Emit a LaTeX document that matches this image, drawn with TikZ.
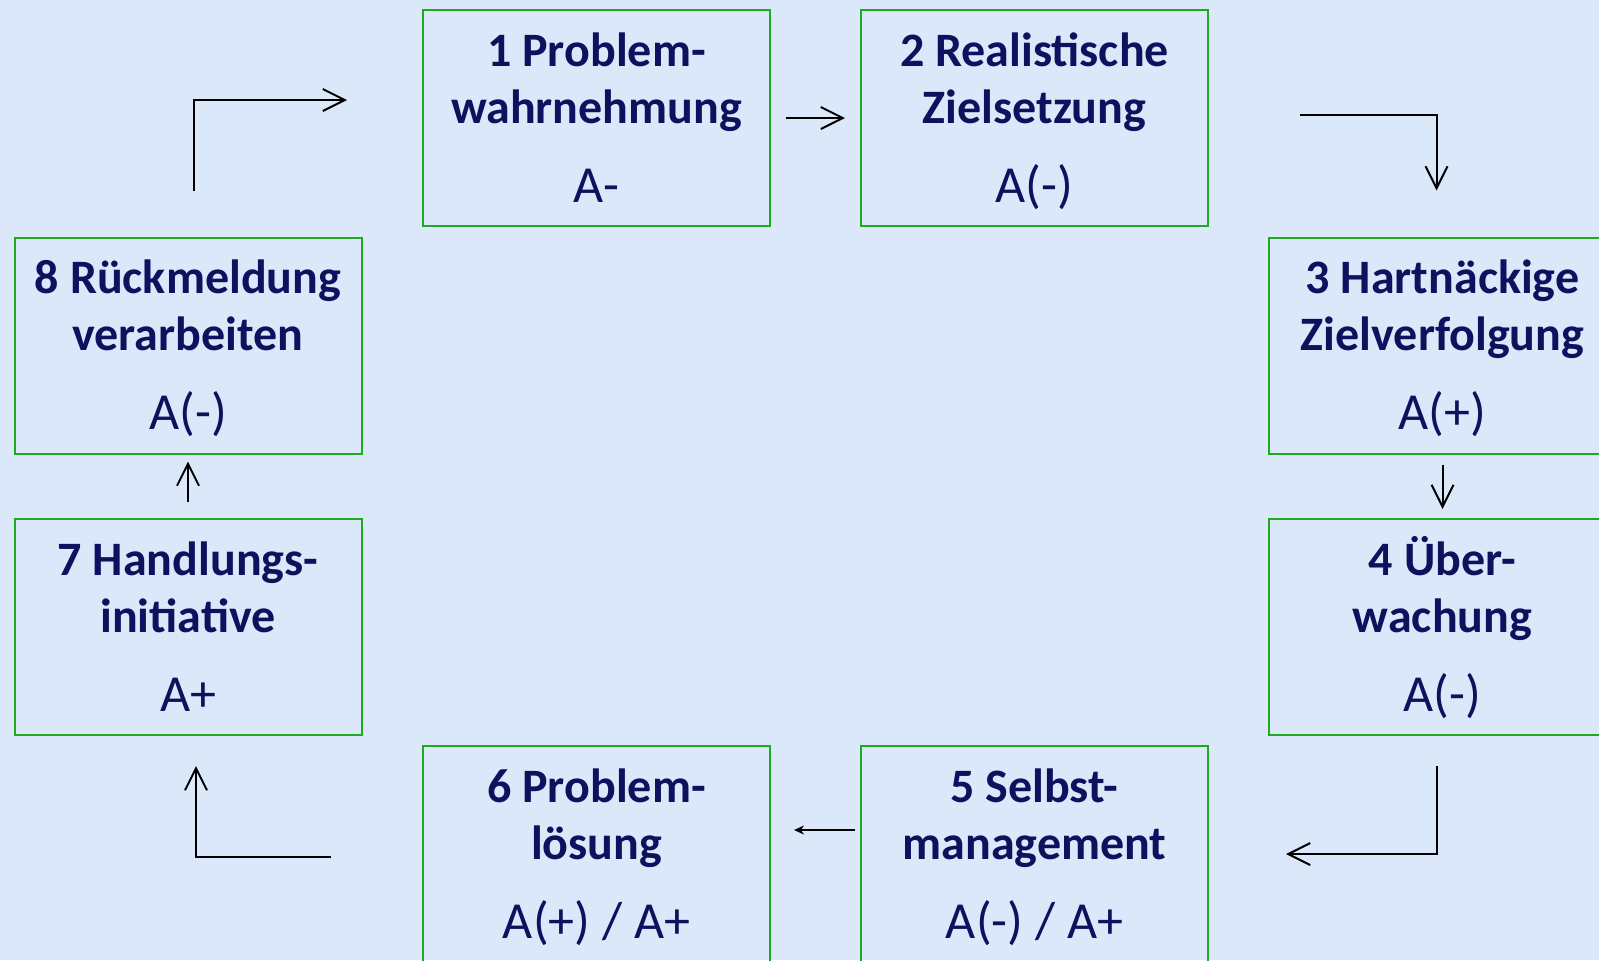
\documentclass[tikz,border=0pt]{standalone}
\usepackage{fontspec}
\setmainfont{Carlito}
\usetikzlibrary{arrows.meta}

\definecolor{bgblue}{RGB}{218,232,250}
\definecolor{navy}{RGB}{12,18,94}
\definecolor{boxgreen}{RGB}{30,170,30}

\newcommand{\rating}[1]{{\fontsize{26}{28.5}\selectfont\mdseries #1\rule[-4pt]{0pt}{4pt}}}

\begin{document}
\begin{tikzpicture}[x = 0.5pt, y = -0.5pt,
	box/.style = {draw = boxgreen, line width = 1pt, minimum width = 173.5pt, minimum height = 108pt, inner sep = 0pt, align = center, text = navy, font = \fontsize{24}{28.5}\selectfont\bfseries},
	arr/.style = {line width = 1pt, -{Straight Barb[length = 11pt, width = 11pt]}},
	arrsmall/.style = {line width = 1pt, -{Stealth[length = 5pt, width = 4.5pt]}}]

\path[use as bounding box, fill = bgblue] (0,0) rectangle (1599,960);
\clip (0,0) rectangle (1599,960);

\node[box] (b1) at (596.5,118) {\rule{0pt}{20pt}1 Problem-\\wahrnehmung\\[11pt]\rating{A-}};
\node[box] (b2) at (1034.5,118) {\rule{0pt}{20pt}2 Realistische\\Zielsetzung\\[11pt]\rating{A(-)}};
\node[box] (b3) at (1442.5,345.5) {\rule{0pt}{20pt}3 Hartnäckige\\Zielverfolgung\\[11pt]\rating{A(+)}};
\node[box] (b4) at (1442.5,627) {\rule{0pt}{20pt}4 Über-\\wachung\\[11pt]\rating{A(-)}};
\node[box] (b5) at (1034.5,854) {\rule{0pt}{20pt}5 Selbst-\\management\\[11pt]\rating{A(-) / A+}};
\node[box] (b6) at (596.5,854) {\rule{0pt}{20pt}6 Problem-\\lösung\\[11pt]\rating{A(+) / A+}};
\node[box] (b7) at (188,627) {\rule{0pt}{20pt}7 Handlungs-\\initiative\\[11pt]\rating{A+}};
\node[box] (b8) at (188,345.5) {\rule{0pt}{20pt}8 Rückmeldung\\verarbeiten\\[11pt]\rating{A(-)}};

\draw[arr] ([xshift = 3pt, yshift = 23pt]b8.north) |- ([xshift = -37.5pt, yshift = 9pt]b1.west);
\draw[arr, shorten < = 7.5pt, shorten > = 7.5pt] (b1.east) -- (b2.west);
\draw[arr] ([xshift = 45.5pt, yshift = 1.5pt]b2.east) -| ([xshift = -3pt, yshift = 23pt]b3.north);
\draw[arr, shorten < = 5pt, shorten > = 4.5pt] (b3.south) -- (b4.north);
\draw[arr] ([xshift = -3pt, yshift = -15pt]b4.south) |- ([xshift = 38.5pt]b5.east);
\draw[arrsmall, shorten < = 2.5pt, shorten > = 11.5pt] ([yshift = 12pt]b5.west) -- ([yshift = 12pt]b6.east);
\draw[arr] ([xshift = -45.5pt, yshift = -1.5pt]b6.west) -| ([xshift = 4pt, yshift = -15pt]b7.south);
\draw[arr, shorten < = 8pt, shorten > = 3.5pt] (b7.north) -- (b8.south);
\end{tikzpicture}
\end{document}
